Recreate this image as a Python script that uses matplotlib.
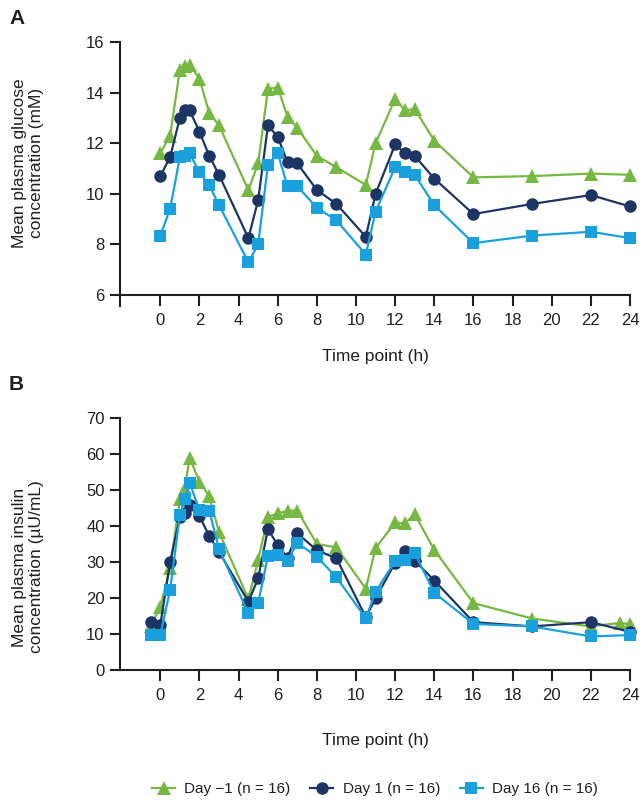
import matplotlib
matplotlib.use('Agg')
import matplotlib.pyplot as plt

plt.rcParams['font.family'] = ['Liberation Sans', 'DejaVu Sans']

# Panel A - glucose (mM)
time_a = [0, 0.5, 1, 1.25, 1.5, 2, 2.5, 3, 4.5, 5, 5.5, 6, 6.5, 7, 8, 9,
          10.5, 11, 12, 12.5, 13, 14, 16, 19, 22, 24]
glu_day_m1 = [11.6, 12.3, 14.9, 15.05, 15.1, 14.55, 13.2, 12.7, 10.15, 11.2, 14.15, 14.2, 13.05,
              12.6, 11.5, 11.05, 10.35, 12.0, 13.75, 13.3, 13.35, 12.1, 10.65, 10.7, 10.8, 10.75]
glu_day_1 = [10.7, 11.45, 13.0, 13.3, 13.3, 12.45, 11.5, 10.75, 8.25, 9.75, 12.7, 12.25, 11.25,
             11.2, 10.15, 9.6, 8.3, 10.0, 11.95, 11.6, 11.5, 10.6, 9.2, 9.6, 9.95, 9.5]
glu_day_16 = [8.35, 9.4, 11.45, 11.5, 11.6, 10.85, 10.35, 9.55, 7.3, 8.0, 11.15, 11.6, 10.3,
              10.3, 9.45, 8.95, 7.6, 9.3, 11.05, 10.85, 10.75, 9.55, 8.05, 8.35, 8.5, 8.25]

# Panel B - insulin (uU/mL)
time_b_m1 = [-0.5, 0, 0.5, 1, 1.25, 1.5, 2, 2.5, 3, 4.5, 5, 5.5, 6, 6.5, 7, 8, 9,
             10.5, 11, 12, 12.5, 13, 14, 16, 19, 22, 23.5, 24]
ins_day_m1 = [12.0, 17.5, 28.2, 47.5, 50.5, 59.0, 52.3, 48.3, 38.3, 19.6, 30.5, 42.5, 43.5, 44.2,
              44.3, 35.0, 34.0, 22.5, 33.8, 41.0, 40.7, 43.3, 33.3, 18.5, 14.2, 12.0, 13.0, 12.6]
time_b = [-0.5, 0, 0.5, 1, 1.25, 1.5, 2, 2.5, 3, 4.5, 5, 5.5, 6, 6.5, 7, 8, 9,
          10.5, 11, 12, 12.5, 13, 14, 16, 19, 22, 24]
ins_day_1 = [13.3, 12.4, 30.0, 42.5, 43.5, 45.8, 42.8, 37.2, 32.8, 18.9, 25.4, 39.2, 34.6, 31.2,
             38.0, 33.2, 31.0, 14.6, 19.8, 29.8, 33.0, 30.3, 24.8, 13.2, 12.0, 13.2, 10.5]
ins_day_16 = [9.6, 9.6, 22.2, 43.0, 47.5, 52.0, 44.4, 44.3, 33.5, 15.7, 18.4, 31.6, 32.0, 30.2,
              35.3, 31.4, 25.7, 14.3, 21.7, 30.2, 30.5, 32.4, 21.4, 12.7, 12.0, 9.2, 9.6]

labels = ['Day \u22121 (n = 16)', 'Day 1 (n = 16)', 'Day 16 (n = 16)']
colors = ['#77b843', '#1c3564', '#1aa0dc']
markers = ['^', 'o', 's']
msizes = [10, 9, 8]
ink = '#231f20'

W, H = 644, 806
fig = plt.figure(figsize=(W / 100, H / 100), dpi=100)

axA = fig.add_axes([120 / W, 1 - 306 / H, 510 / W, (306 - 42) / H])
axB = fig.add_axes([120 / W, 1 - 669.5 / H, 510 / W, (669.5 - 418.3) / H])

seriesA = [(time_a, glu_day_m1), (time_a, glu_day_1), (time_a, glu_day_16)]
seriesB = [(time_b_m1, ins_day_m1), (time_b, ins_day_1), (time_b, ins_day_16)]

handles = []
for ax, series in [(axA, seriesA), (axB, seriesB)]:
    for (t, v), c, m, ms, lab in zip(series, colors, markers, msizes, labels):
        ln, = ax.plot(t, v, color=c, marker=m, markersize=ms, linewidth=1.6,
                      markeredgewidth=0, label=lab, clip_on=False)
        if ax is axB:
            handles.append(ln)

for ax in (axA, axB):
    ax.set_xlim(-2.06, 24)
    ax.set_xticks(range(0, 25, 2))
    for s in ['top', 'right']:
        ax.spines[s].set_visible(False)
    for s in ['left', 'bottom']:
        ax.spines[s].set_linewidth(1.5)
        ax.spines[s].set_color(ink)
    ax.tick_params(axis='both', length=7.5, width=1.5, color=ink,
                   labelsize=12, labelcolor=ink)
    ax.tick_params(axis='x', length=8, pad=5)
    ax.tick_params(axis='y', pad=3.5)

axA.set_xlabel('Time point (h)', fontsize=12.5, labelpad=15, color=ink)
axB.set_xlabel('Time point (h)', fontsize=12.5, labelpad=22, color=ink)

axA.set_ylim(6 - 11 / 25.35, 16)
axA.spines['bottom'].set_position(('data', 6))
axA.set_yticks(range(6, 17, 2))
axB.set_ylim(0, 70)
axB.set_yticks(range(0, 71, 10))

fig.text(28 / W, 1 - 163 / H, 'Mean plasma glucose\nconcentration (mM)', rotation=90,
         ha='center', va='center', fontsize=12.5, color=ink, linespacing=1.1)
fig.text(28 / W, 1 - 567 / H, 'Mean plasma insulin\nconcentration (\u00b5U/mL)', rotation=90,
         ha='center', va='center', fontsize=12.5, color=ink, linespacing=1.1)

fig.text(9 / W, 1 - 18 / H, 'A', fontsize=15, fontweight='bold', va='center', color=ink)
fig.text(9 / W, 1 - 385 / H, 'B', fontsize=15, fontweight='bold', va='center', color=ink)

fig.legend(handles, labels, loc='center', bbox_to_anchor=(375 / W, 1 - 789 / H), ncol=3,
           frameon=False, fontsize=11, handlelength=1.5, handletextpad=0.6,
           columnspacing=1.3, labelcolor=ink)

fig.savefig('out.png', dpi=100)
